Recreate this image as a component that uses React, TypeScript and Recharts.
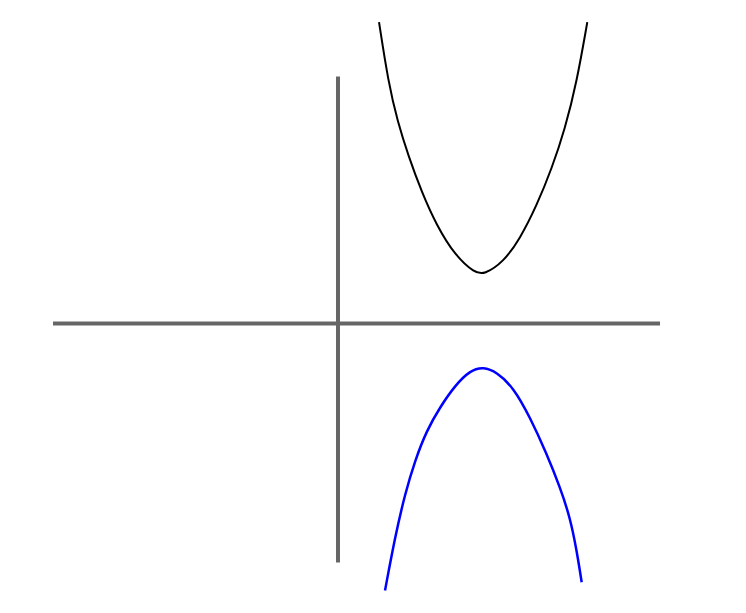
import { LineChart, Line, XAxis, YAxis, ReferenceLine } from 'recharts'

// units: 1 x-unit ~ 73px, 1 y-unit ~ 49px, origin where the grey axes cross
const upperX = [0.562, 0.689, 0.818, 0.963, 1.147, 1.352, 1.603, 1.877, 2.0, 2.264, 2.493, 2.722, 2.927, 3.11, 3.27, 3.415]
const upperY = [6.149, 4.924, 4.108, 3.429, 2.68, 2.0, 1.388, 1.027, 1.0, 1.251, 1.729, 2.408, 3.157, 3.973, 4.924, 6.149]

const lowerX = [0.644, 0.781, 0.918, 1.055, 1.215, 1.397, 1.603, 1.808, 1.993, 2.174, 2.401, 2.63, 2.859, 3.041, 3.178, 3.27, 3.338]
const lowerY = [-5.449, -4.361, -3.476, -2.796, -2.184, -1.708, -1.265, -0.959, -0.884, -0.994, -1.3, -1.912, -2.659, -3.341, -3.953, -4.633, -5.28]

// extents of the drawn axes
const xAxisRange = [-3.904, 4.411]
const yAxisRange = [-4.878, 5.041]

const X_DOMAIN = [-4.63, 5.589]
const Y_DOMAIN = [-5.908, 6.602]

const upper = upperX.map((x, i) => ({ x, y: upperY[i] }))
const lower = lowerX.map((x, i) => ({ x, y: lowerY[i] }))

export default function App() {
  return (
    <div style={{ position: 'absolute', left: 0, top: 0, width: 746, height: 613, background: '#fff' }}>
      <LineChart width={746} height={613} margin={{ top: 0, right: 0, bottom: 0, left: 0 }}>
        <XAxis type="number" dataKey="x" domain={X_DOMAIN} allowDataOverflow hide />
        <YAxis type="number" dataKey="y" domain={Y_DOMAIN} allowDataOverflow hide />

        {/* grey coordinate axes */}
        <ReferenceLine
          segment={[{ x: xAxisRange[0], y: 0 }, { x: xAxisRange[1], y: 0 }]}
          stroke="#666"
          strokeWidth={4}
          ifOverflow="visible"
        />
        <ReferenceLine
          segment={[{ x: 0, y: yAxisRange[0] }, { x: 0, y: yAxisRange[1] }]}
          stroke="#666"
          strokeWidth={4}
          ifOverflow="visible"
        />

        <Line data={upper} dataKey="y" type="basis" stroke="#000" strokeWidth={2} dot={false} activeDot={false} isAnimationActive={false} />
        <Line data={lower} dataKey="y" type="basis" stroke="#0000ff" strokeWidth={2.5} dot={false} activeDot={false} isAnimationActive={false} />
      </LineChart>
    </div>
  )
}
